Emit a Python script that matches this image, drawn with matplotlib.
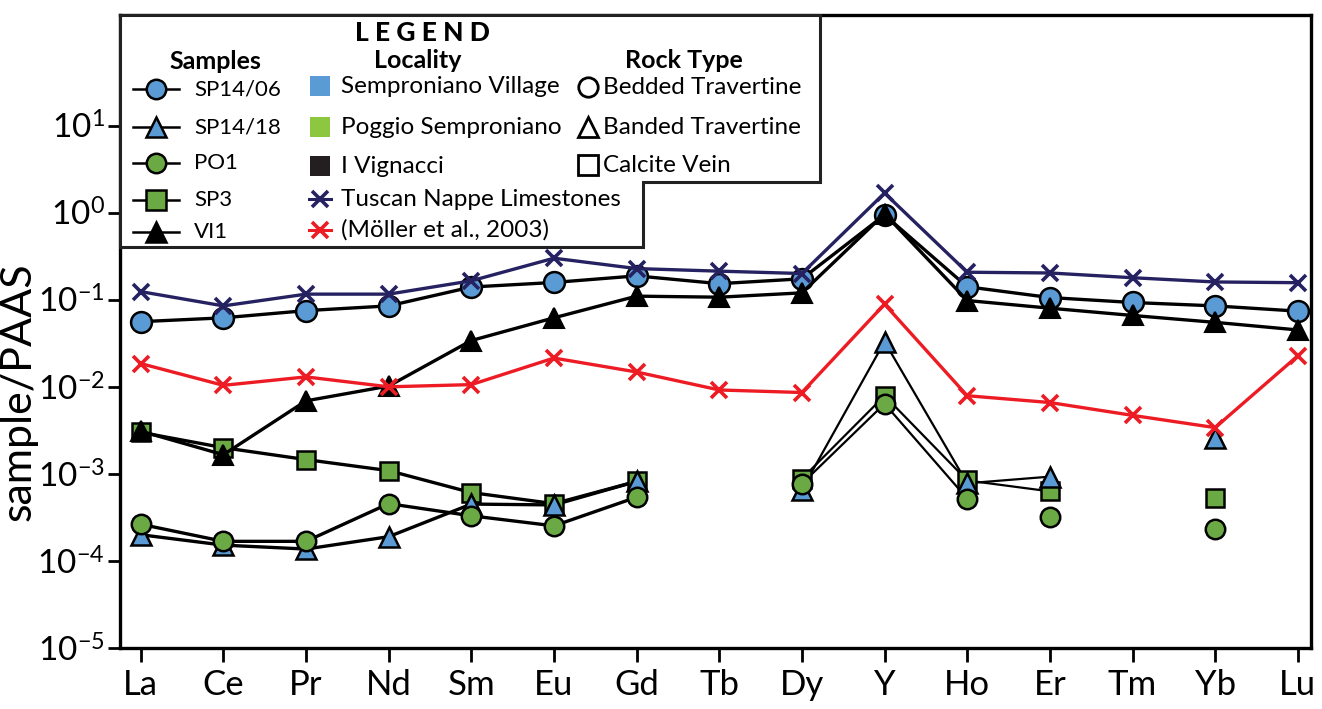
import numpy as np
import matplotlib
matplotlib.use('Agg')
import matplotlib.pyplot as plt
from matplotlib.patches import Polygon
from matplotlib.ticker import NullLocator

plt.rcParams['font.family'] = ['Lato', 'DejaVu Sans']
plt.rcParams['mathtext.fontset'] = 'custom'
plt.rcParams['mathtext.rm'] = 'Lato'
plt.rcParams['mathtext.it'] = 'Lato'

nan = np.nan

# Elementos (REE + Y)
elementos = ['La', 'Ce', 'Pr', 'Nd', 'Sm', 'Eu', 'Gd', 'Tb', 'Dy', 'Y', 'Ho', 'Er', 'Tm', 'Yb', 'Lu']

# Valores normalizados ao PAAS
sp14_06 = [0.056, 0.062, 0.075, 0.085, 0.14, 0.158, 0.188, 0.153, 0.174, 0.94, 0.141, 0.106, 0.093, 0.085, 0.074]
sp14_18 = [0.0002, 0.000152, 0.000137, 0.00019, 0.00045, 0.00044, 0.00082, nan, 0.00066, 0.033, 0.00078, 0.00093, nan, 0.0026, nan]
po1 = [0.000264, 0.000168, 0.000168, 0.000455, 0.00033, 0.000253, 0.00054, nan, 0.00077, 0.0064, 0.00052, 0.00032, nan, 0.000235, nan]
sp3 = [0.003, 0.002, 0.00146, 0.00109, 0.00061, 0.000455, 0.00082, nan, 0.00088, 0.0079, 0.00084, 0.00063, nan, 0.00053, nan]
vi1 = [0.0031, 0.00166, 0.0069, 0.0102, 0.034, 0.062, 0.11, 0.107, 0.12, 0.97, 0.098, 0.08, 0.066, 0.055, 0.045]
tuscan = [0.124, 0.085, 0.116, 0.116, 0.165, 0.30, 0.228, 0.213, 0.20, 1.68, 0.207, 0.203, 0.179, 0.16, 0.157]
moller = [0.0185, 0.0104, 0.013, 0.010, 0.0106, 0.0214, 0.0148, 0.0092, 0.0086, 0.089, 0.0079, 0.0066, 0.0047, 0.0034, 0.0227]

# pontos sem linha de ligacao (PO1 em Er)
po1_sem_linha = ['Er']

azul = '#5b9bd5'
verde = '#6aa944'
verde_leg = '#8dc63f'
marinho = '#262262'
vermelho = '#ed1c24'

x = np.arange(len(elementos))

fig = plt.figure(figsize=(13.22, 7.09), dpi=100)
ax = fig.add_axes([0.0908, 0.0860, 0.9009, 0.8928])

# amostras de baixa concentracao: linha grossa La-Gd, fina Dy-Er
po1_linha = np.array(po1, dtype=float)
for el in po1_sem_linha:
    po1_linha[elementos.index(el)] = nan

baixas = [(sp3, sp3, 's', verde, 13, 3),
          (sp14_18, sp14_18, '^', azul, 14, 4),
          (po1, po1_linha, 'o', verde, 14, 5)]
for vals, linha, mk, cor, ms, z in baixas:
    linha = np.array(linha, dtype=float)
    ax.plot(x[:7], linha[:7], color='black', lw=2.4, zorder=2)
    ax.plot(x[8:], linha[8:], color='black', lw=1.6, zorder=2)
    ax.plot(x, vals, ls='none', marker=mk, ms=ms, mfc=cor, mec='black', mew=1.8, zorder=z)

# amostras de alta concentracao
ax.plot(x, sp14_06, color='black', lw=2.4, marker='o', ms=15, mfc=azul, mec='black', mew=1.8, zorder=6)
ax.plot(x, vi1, color='black', lw=2.4, marker='^', ms=15, mfc='black', mec='black', mew=1.5, zorder=7)

# referencias
ax.plot(x, tuscan, color=marinho, lw=2.4, marker='x', ms=11, mew=2.6, zorder=8)
ax.plot(x, moller, color=vermelho, lw=2.4, marker='x', ms=11, mew=2.6, zorder=8)

ax.set_yscale('log')
ax.set_ylim(1e-5, 10 ** 2.27)
ax.set_xlim(-0.25, 14.16)
ax.yaxis.set_minor_locator(NullLocator())
yt = [1e-5, 1e-4, 1e-3, 1e-2, 1e-1, 1e0, 1e1]
ax.set_yticks(yt)
ax.set_yticklabels(['10$^{\\mathregular{%d}}$' % int(np.log10(v)) for v in yt], fontsize=24)
ax.set_xticks(x)
ax.set_xticklabels(elementos, fontsize=25)
ax.tick_params(axis='both', direction='out', width=2, length=9, colors='black')
ax.tick_params(axis='x', length=10, pad=5)
ax.tick_params(axis='y', pad=2)
for s in ax.spines.values():
    s.set_linewidth(2.4)
ax.set_ylabel('sample/PAAS', fontsize=31, labelpad=0)
ax.yaxis.set_label_coords(-0.069, 0.405)


# ---- legenda desenhada a mao (coordenadas em pixels da figura) ----
def ax_x(px):
    return (px - 120) / 1191.0


def ax_y(py):
    return (648 - py) / 633.0


contorno = [(120, 15), (820, 15), (820, 182), (643, 182), (643, 247), (120, 247)]
ax.add_patch(Polygon([(ax_x(a), ax_y(b)) for a, b in contorno], closed=True,
                     transform=ax.transAxes, facecolor='white', edgecolor='#222222',
                     lw=2.2, zorder=20, clip_on=False))

kw = dict(transform=ax.transAxes, zorder=21, clip_on=False)
ax.text(ax_x(422), ax_y(33), 'L E G E N D', fontsize=19, fontweight='black', ha='center', va='center', **kw)
ax.text(ax_x(215), ax_y(61), 'Samples', fontsize=18, fontweight='bold', ha='center', va='center', **kw)
ax.text(ax_x(418), ax_y(60), 'Locality', fontsize=18, fontweight='bold', ha='center', va='center', **kw)
ax.text(ax_x(684), ax_y(60), 'Rock Type', fontsize=18, fontweight='bold', ha='center', va='center', **kw)

amostras = [('SP14/06', 'o', azul, 89), ('SP14/18', '^', azul, 127), ('PO1', 'o', verde, 163),
            ('SP3', 's', verde, 200), ('VI1', '^', 'black', 232)]
for nome, mk, cor, py in amostras:
    ax.plot([ax_x(133), ax_x(179)], [ax_y(py), ax_y(py)], color='black', lw=1.8, **kw)
    ax.plot([ax_x(156)], [ax_y(py)], marker=mk, ms=14, mfc=cor, mec='black', mew=1.8, **kw)
    ax.text(ax_x(194), ax_y(py), nome, fontsize=16, va='center', **kw)

localidades = [('Semproniano Village', azul, 86), ('Poggio Semproniano', verde_leg, 127),
               ('I Vignacci', '#231f20', 166)]
for nome, cor, py in localidades:
    ax.plot([ax_x(320)], [ax_y(py)], marker='s', ms=14, mfc=cor, mec=cor, mew=0, **kw)
    ax.text(ax_x(341), ax_y(py), nome, fontsize=17.5, va='center', **kw)

refs = [('Tuscan Nappe Limestones', marinho, 199), ('(Möller et al., 2003)', vermelho, 230)]
for nome, cor, py in refs:
    ax.plot([ax_x(309), ax_x(331)], [ax_y(py), ax_y(py)], color=cor, lw=2.2, **kw)
    ax.plot([ax_x(320)], [ax_y(py)], marker='x', ms=12, mew=2.6, color=cor, **kw)
    ax.text(ax_x(341), ax_y(py), nome, fontsize=17.5, va='center', **kw)

rochas = [('Bedded Travertine', 'o', 87), ('Banded Travertine', '^', 127), ('Calcite Vein', 's', 165)]
for nome, mk, py in rochas:
    ax.plot([ax_x(588)], [ax_y(py)], marker=mk, ms=14, mfc='white', mec='black', mew=2, **kw)
    ax.text(ax_x(603), ax_y(py), nome, fontsize=17.5, va='center', **kw)

plt.savefig('out.png', dpi=100)
